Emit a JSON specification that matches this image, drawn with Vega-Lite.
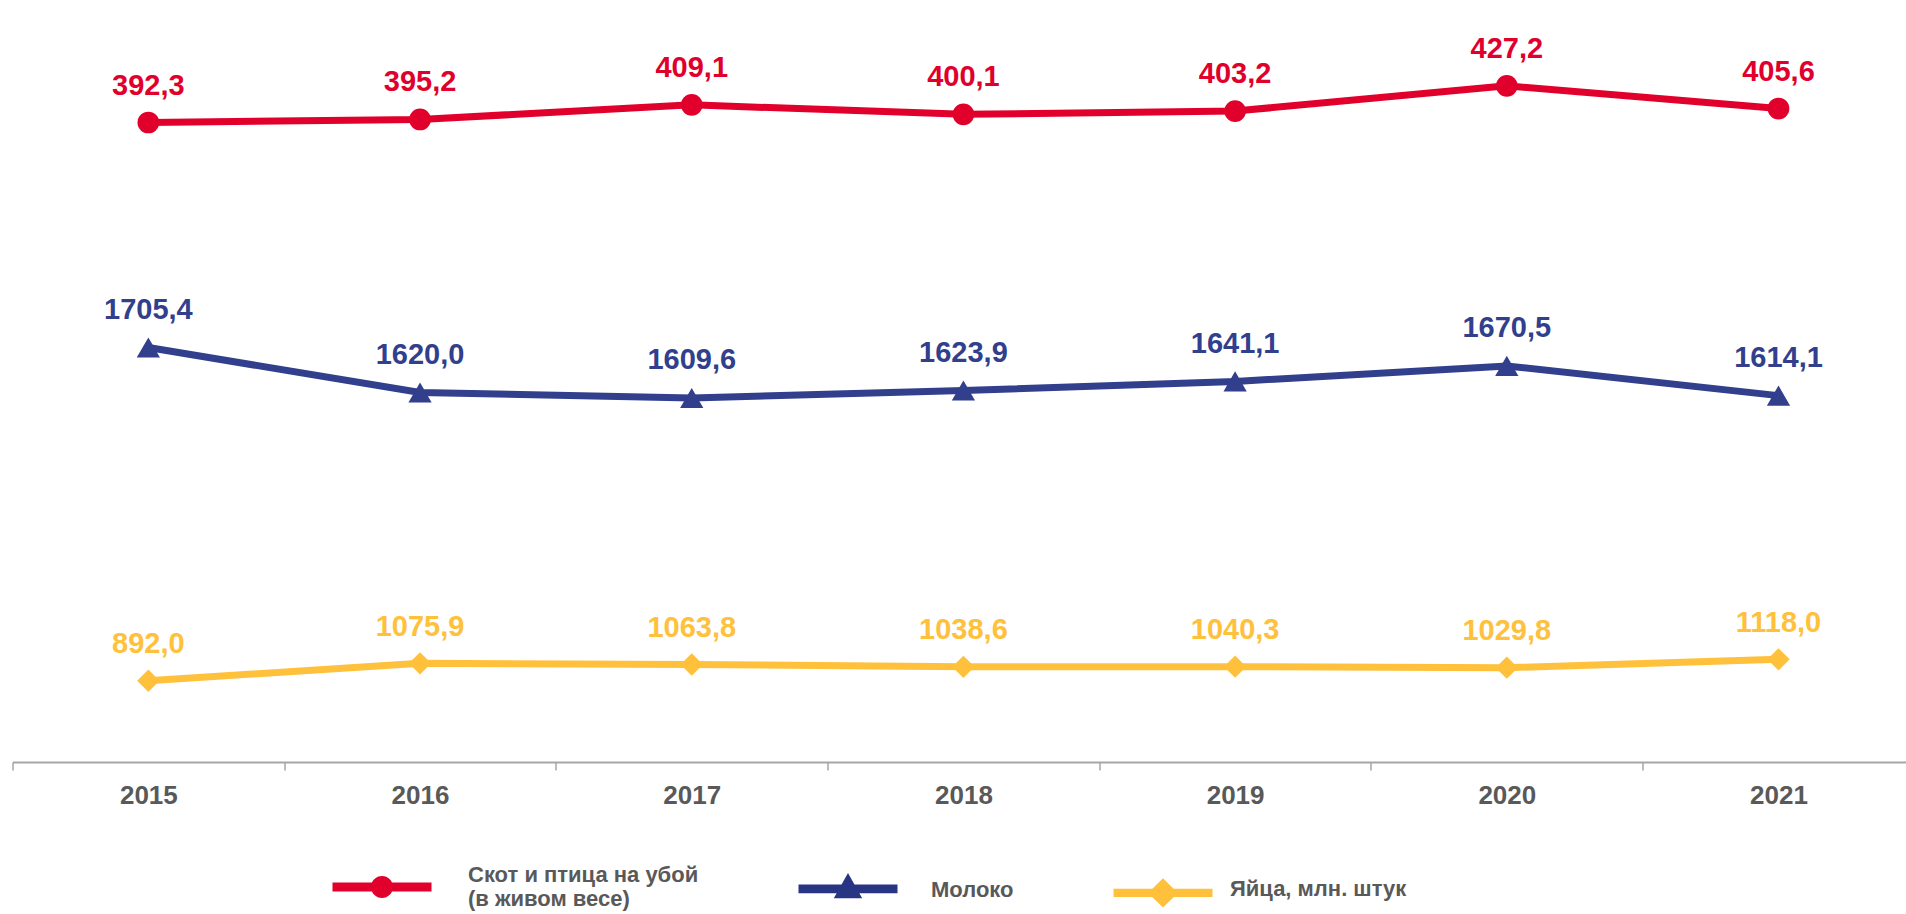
{
  "$schema": "https://vega.github.io/schema/vega-lite/v6.json",
  "width": 1893.5,
  "height": 762,
  "padding": {"left": 12.5, "top": 0, "right": 0, "bottom": 152},
  "autosize": {"type": "none"},
  "background": "white",
  "config": {"view": {"stroke": null}, "font": "Liberation Sans"},
  "data": {"values": [
    {"year": 2015, "series": "Скот и птица на убой (в живом весе)", "value": 392.3},
    {"year": 2016, "series": "Скот и птица на убой (в живом весе)", "value": 395.2},
    {"year": 2017, "series": "Скот и птица на убой (в живом весе)", "value": 409.1},
    {"year": 2018, "series": "Скот и птица на убой (в живом весе)", "value": 400.1},
    {"year": 2019, "series": "Скот и птица на убой (в живом весе)", "value": 403.2},
    {"year": 2020, "series": "Скот и птица на убой (в живом весе)", "value": 427.2},
    {"year": 2021, "series": "Скот и птица на убой (в живом весе)", "value": 405.6},
    {"year": 2015, "series": "Молоко", "value": 1705.4},
    {"year": 2016, "series": "Молоко", "value": 1620.0},
    {"year": 2017, "series": "Молоко", "value": 1609.6},
    {"year": 2018, "series": "Молоко", "value": 1623.9},
    {"year": 2019, "series": "Молоко", "value": 1641.1},
    {"year": 2020, "series": "Молоко", "value": 1670.5},
    {"year": 2021, "series": "Молоко", "value": 1614.1},
    {"year": 2015, "series": "Яйца, млн. штук", "value": 892.0},
    {"year": 2016, "series": "Яйца, млн. штук", "value": 1075.9},
    {"year": 2017, "series": "Яйца, млн. штук", "value": 1063.8},
    {"year": 2018, "series": "Яйца, млн. штук", "value": 1038.6},
    {"year": 2019, "series": "Яйца, млн. штук", "value": 1040.3},
    {"year": 2020, "series": "Яйца, млн. штук", "value": 1029.8},
    {"year": 2021, "series": "Яйца, млн. штук", "value": 1118.0}
  ]},
  "transform": [{"calculate": "replace(format(datum.value, '.1f'), '.', ',')", "as": "lbl"}],
  "encoding": {
    "x": {
      "field": "year", "type": "quantitative",
      "scale": {"domain": [2014.5, 2021.4693], "nice": false, "zero": false},
      "axis": {
        "values": [2014.5, 2015.5, 2016.5, 2017.5, 2018.5, 2019.5, 2020.5],
        "labelExpr": "'' + (datum.value + 0.5)",
        "labelOffset": 135.85, "labelFlush": false, "labelOverlap": false, "labelBound": false,
        "grid": false, "title": null,
        "domainColor": "#A6A6A6", "domainWidth": 2,
        "tickColor": "#A6A6A6", "tickWidth": 1.5, "tickSize": 8,
        "labelFont": "Liberation Sans", "labelFontSize": 26, "labelFontWeight": "bold",
        "labelColor": "#595959", "labelPadding": 12, "labelBaseline": "top", "labelAlign": "center"
      }
    }
  },
  "layer": [
    {
      "transform": [{"filter": "datum.series == 'Скот и птица на убой (в живом весе)'"}],
      "encoding": {"y": {"field": "value", "type": "quantitative", "scale": {"domain": [-216.74, 508.97], "nice": false, "zero": false}, "axis": null}},
      "layer": [
        {"mark": {"type": "line", "color": "#E0002B", "strokeWidth": 7}},
        {"mark": {"type": "point", "shape": "circle", "filled": true, "size": 471, "color": "#E0002B", "opacity": 1}},
        {"mark": {"type": "text", "color": "#E0002B", "font": "Liberation Sans", "fontSize": 29, "fontWeight": "bold", "baseline": "alphabetic", "dy": -28}, "encoding": {"text": {"field": "lbl"}}}
      ]
    },
    {
      "transform": [{"filter": "datum.series == 'Молоко'"}],
      "encoding": {"y": {"field": "value", "type": "quantitative", "scale": {"domain": [918.9, 2364.8], "nice": false, "zero": false}, "axis": null}},
      "layer": [
        {"mark": {"type": "line", "color": "#313F8C", "strokeWidth": 7}},
        {"mark": {"type": "point", "shape": "triangle-up", "filled": true, "size": 540, "color": "#313F8C", "opacity": 1}},
        {"mark": {"type": "text", "color": "#313F8C", "font": "Liberation Sans", "fontSize": 29, "fontWeight": "bold", "baseline": "alphabetic", "dy": -28.5}, "encoding": {"text": {"field": "lbl"}}}
      ]
    },
    {
      "transform": [{"filter": "datum.series == 'Яйца, млн. штук'"}],
      "encoding": {"y": {"field": "value", "type": "quantitative", "scale": {"domain": [32.7, 8087.6], "nice": false, "zero": false}, "axis": null}},
      "layer": [
        {"mark": {"type": "line", "color": "#FFC13B", "strokeWidth": 7}},
        {"mark": {"type": "point", "shape": "diamond", "filled": true, "size": 500, "color": "#FFC13B", "opacity": 1}},
        {"mark": {"type": "text", "color": "#FFC13B", "font": "Liberation Sans", "fontSize": 29, "fontWeight": "bold", "baseline": "alphabetic", "dy": -27.5}, "encoding": {"text": {"field": "lbl"}}}
      ]
    },
    {
      "transform": [{"filter": "false"}],
      "mark": {"type": "point", "filled": true, "opacity": 1, "size": 484},
      "encoding": {
        "color": {
          "field": "series", "type": "nominal",
          "scale": {"domain": ["Скот и птица на убой (в живом весе)", "Молоко", "Яйца, млн. штук"], "range": ["#E0002B", "#283583", "#FFC13B"]},
          "legend": {
            "orient": "none", "legendX": 358.5, "legendY": 876, "direction": "horizontal", "title": null,
            "symbolSize": 484, "symbolStrokeWidth": 0, "padding": 0,
            "labelFont": "Liberation Sans", "labelFontSize": 22, "labelFontWeight": "bold", "labelColor": "#595959",
            "labelLimit": 400, "labelLineHeight": 30, "columnPadding": 99,
            "labelOffset": {"expr": "datum.value == 'Яйца, млн. штук' ? 56 : datum.value == 'Молоко' ? 72 : 75"},
            "labelBaseline": {"expr": "datum.value == 'Скот и птица на убой (в живом весе)' ? 'bottom' : datum.value == 'Молоко' ? 'alphabetic' : 'middle'"},
            "labelExpr": "datum.label == 'Скот и птица на убой (в живом весе)' ? ['Скот и птица на убой', '(в живом весе)'] : datum.label"
          }
        },
        "shape": {
          "field": "series", "type": "nominal",
          "scale": {"domain": ["Скот и птица на убой (в живом весе)", "Молоко", "Яйца, млн. штук"], "range": [
            "M-4.5,-0.4H4.5V0.4H-4.5Z M-1,0A1,1 0 1,1 1,0A1,1 0 1,1 -1,0Z",
            "M-4.5,-1.09H4.5V-0.29H-4.5Z M0,-2.13L1.29,0.15L-1.29,0.15Z",
            "M-4.5,-0.05H4.5V0.69H-4.5Z M0,-1.01L1.36,0.32L0,1.65L-1.36,0.32Z"
          ]},
          "legend": {
            "orient": "none", "legendX": 358.5, "legendY": 876, "direction": "horizontal", "title": null,
            "symbolSize": 484, "symbolStrokeWidth": 0, "padding": 0,
            "labelFont": "Liberation Sans", "labelFontSize": 22, "labelFontWeight": "bold", "labelColor": "#595959",
            "labelLimit": 400, "labelLineHeight": 30, "columnPadding": 99,
            "labelOffset": {"expr": "datum.value == 'Яйца, млн. штук' ? 56 : datum.value == 'Молоко' ? 72 : 75"},
            "labelBaseline": {"expr": "datum.value == 'Скот и птица на убой (в живом весе)' ? 'bottom' : datum.value == 'Молоко' ? 'alphabetic' : 'middle'"},
            "labelExpr": "datum.label == 'Скот и птица на убой (в живом весе)' ? ['Скот и птица на убой', '(в живом весе)'] : datum.label"
          }
        }
      }
    }
  ],
  "resolve": {"scale": {"y": "independent"}}
}
